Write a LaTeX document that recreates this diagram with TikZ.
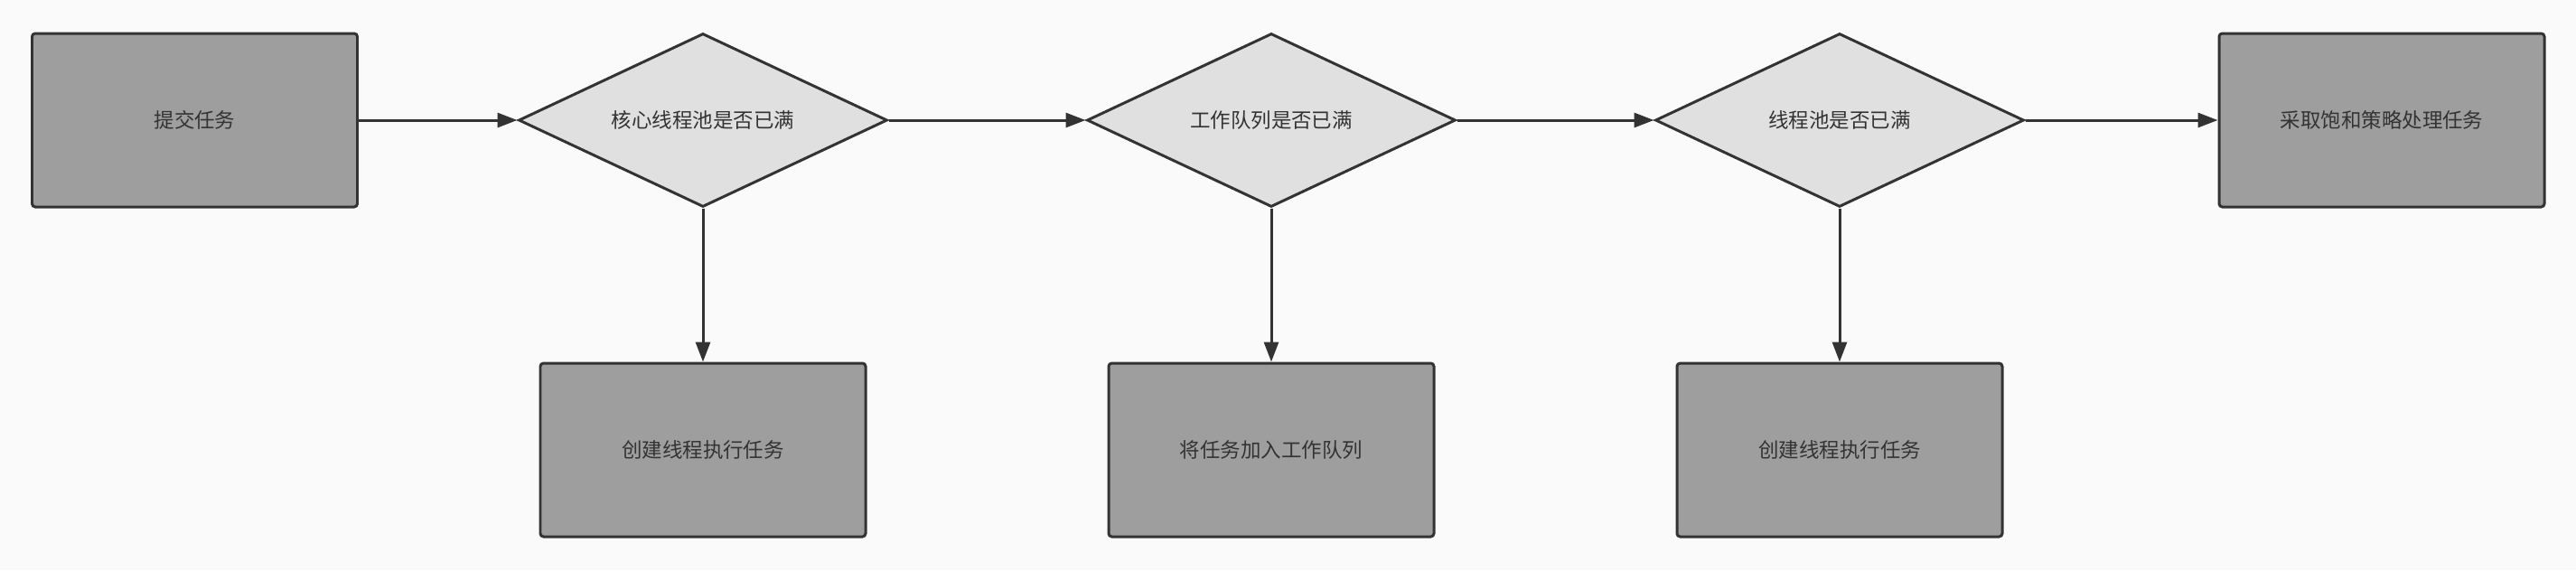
\documentclass[tikz,border=0pt]{standalone}
\usepackage{fontspec}
\newfontfamily\cjk{Noto Sans CJK SC}
\usetikzlibrary{arrows.meta}
\usetikzlibrary{shapes.geometric}
\definecolor{hintergrund}{HTML}{FAFAFA}
\definecolor{kasten}{HTML}{9E9E9E}
\definecolor{raute}{HTML}{E0E0E0}
\definecolor{linie}{HTML}{333333}

\begin{document}
\begin{tikzpicture}[
	box/.style={draw=linie, line width=0.85pt, rounded corners=1pt, fill=kasten, minimum width=3.6cm, minimum height=1.92cm, inner sep=0pt, text=linie, font=\cjk\fontsize{6.4pt}{7pt}\selectfont},
	frage/.style={draw=linie, line width=0.85pt, diamond, aspect=2.13, fill=raute, minimum width=4.08cm, minimum height=1.92cm, inner sep=0pt, text=linie, font=\cjk\fontsize{6.4pt}{7pt}\selectfont},
	pfeil/.style={draw=linie, line width=0.85pt, -{Triangle[length=0.22cm, width=0.16cm]}}]
		%Hintergrund
		\fill[hintergrund] (0,0) rectangle (28.51,-6.31);
		\useasboundingbox (0,0) rectangle (28.51,-6.31);
		%
		%Aufgabe
		\node (tijiao) at (2.155,-1.33) [box] {提交任务};
		%
		%Kern-Pool voll?
		\node (kern) at (7.78,-1.33) [frage] {核心线程池是否已满};
		%
		%Queue voll?
		\node (queue) at (14.07,-1.33) [frage] {工作队列是否已满};
		%
		%Pool voll?
		\node (pool) at (20.36,-1.33) [frage] {线程池是否已满};
		%
		%Ablehnung
		\node (ablehnen) at (26.36,-1.33) [box] {采取饱和策略处理任务};
		%
		%untere Reihe
		\node (erstellen1) at (7.78,-4.98) [box] {创建线程执行任务};
		\node (einreihen) at (14.07,-4.98) [box] {将任务加入工作队列};
		\node (erstellen2) at (20.36,-4.98) [box] {创建线程执行任务};
		%
		%Pfeile obere Reihe
		\draw[pfeil] (tijiao) -- (kern);
		\draw[pfeil] (kern) -- (queue);
		\draw[pfeil] (queue) -- (pool);
		\draw[pfeil] (pool) -- (ablehnen);
		%
		%Pfeile nach unten
		\draw[pfeil] (kern) -- (erstellen1);
		\draw[pfeil] (queue) -- (einreihen);
		\draw[pfeil] (pool) -- (erstellen2);
\end{tikzpicture}
\end{document}
